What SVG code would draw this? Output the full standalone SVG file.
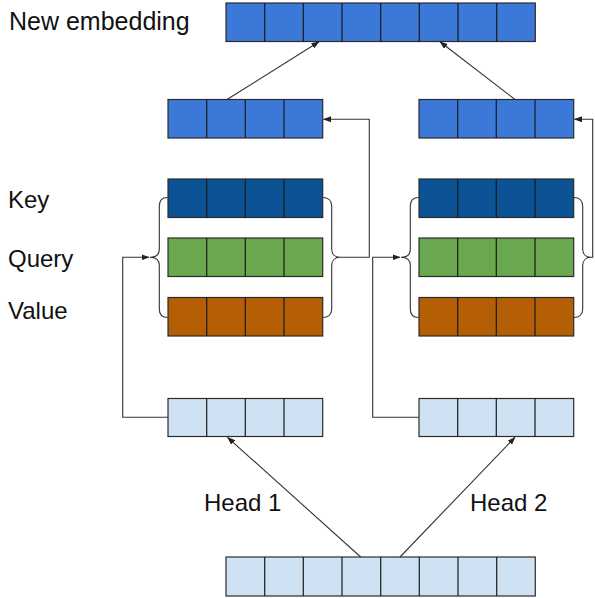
<svg xmlns="http://www.w3.org/2000/svg" width="595" height="598" viewBox="0 0 595 598">
  <style>
    .lbl { font-family: "Liberation Sans", Arial, sans-serif; font-size: 24px; fill: #111; }
    .bar { stroke: #2b2b2b; stroke-width: 1.2; }
    .div { stroke: #1a1a1a; stroke-width: 1.2; }
    .emb { fill: #3c78d8; }
    .key { fill: #0b5394; }
    .qry { fill: #6aa84f; }
    .val { fill: #b45f06; }
    .inp { fill: #cfe2f3; }
    .wire { fill: none; stroke: #333; stroke-width: 1.1; }
    .brace { fill: none; stroke: #333; stroke-width: 1.1; }
  </style>
  <defs>
    <marker id="arrow" markerUnits="userSpaceOnUse" markerWidth="8" markerHeight="6" refX="7.5" refY="3" orient="auto">
      <path d="M0,0 L8,3 L0,6 z" fill="#222"/>
    </marker>
    <!-- vertical cell divider, 4-cell bar -->
  </defs>

  <rect width="595" height="598" fill="#ffffff"/>

  <!-- labels -->
  <text class="lbl" x="9" y="29.5" style="font-size:25px">New embedding</text>
  <text class="lbl" x="8" y="207.5">Key</text>
  <text class="lbl" x="8" y="266.5">Query</text>
  <text class="lbl" x="8" y="318.5">Value</text>
  <text class="lbl" x="204" y="510.5">Head 1</text>
  <text class="lbl" x="470" y="510.5">Head 2</text>

  <!-- output embedding, 8 cells -->
  <g id="new-embedding">
    <rect class="bar emb" x="226" y="3" width="309.3" height="38.5"/>
    <path class="div" d="M264.7,3V41.5M303.3,3V41.5M342,3V41.5M380.7,3V41.5M419.3,3V41.5M458,3V41.5M496.7,3V41.5"/>
  </g>

  <!-- head 1 -->
  <g id="head1-out">
    <rect class="bar emb" x="168" y="99.5" width="154.7" height="38.5"/>
    <path class="div" d="M206.7,99.5V138M245.3,99.5V138M284,99.5V138"/>
  </g>
  <g id="head1-key">
    <rect class="bar key" x="168" y="179" width="154.7" height="38.5"/>
    <path class="div" d="M206.7,179V217.5M245.3,179V217.5M284,179V217.5"/>
  </g>
  <g id="head1-query">
    <rect class="bar qry" x="168" y="238" width="154.7" height="38.5"/>
    <path class="div" d="M206.7,238V276.5M245.3,238V276.5M284,238V276.5"/>
  </g>
  <g id="head1-value">
    <rect class="bar val" x="168" y="297.5" width="154.7" height="38.5"/>
    <path class="div" d="M206.7,297.5V336M245.3,297.5V336M284,297.5V336"/>
  </g>
  <g id="head1-in">
    <rect class="bar inp" x="168" y="398.5" width="154.7" height="38"/>
    <path class="div" d="M206.7,398.5V436.5M245.3,398.5V436.5M284,398.5V436.5"/>
  </g>

  <!-- head 2 -->
  <g id="head2-out">
    <rect class="bar emb" x="419" y="99.5" width="154.7" height="38.5"/>
    <path class="div" d="M457.7,99.5V138M496.3,99.5V138M535,99.5V138"/>
  </g>
  <g id="head2-key">
    <rect class="bar key" x="419" y="179" width="154.7" height="38.5"/>
    <path class="div" d="M457.7,179V217.5M496.3,179V217.5M535,179V217.5"/>
  </g>
  <g id="head2-query">
    <rect class="bar qry" x="419" y="238" width="154.7" height="38.5"/>
    <path class="div" d="M457.7,238V276.5M496.3,238V276.5M535,238V276.5"/>
  </g>
  <g id="head2-value">
    <rect class="bar val" x="419" y="297.5" width="154.7" height="38.5"/>
    <path class="div" d="M457.7,297.5V336M496.3,297.5V336M535,297.5V336"/>
  </g>
  <g id="head2-in">
    <rect class="bar inp" x="419" y="398.5" width="154.7" height="38"/>
    <path class="div" d="M457.7,398.5V436.5M496.3,398.5V436.5M535,398.5V436.5"/>
  </g>

  <!-- input embedding, 8 cells -->
  <g id="input-embedding">
    <rect class="bar inp" x="226" y="557" width="309.3" height="39"/>
    <path class="div" d="M264.7,557V596M303.3,557V596M342,557V596M380.7,557V596M419.3,557V596M458,557V596M496.7,557V596"/>
  </g>

  <!-- braces and connectors -->
  <g id="connectors">
    <!-- head 1 braces -->
    <path class="brace" d="M167.7,197.5 C162.5,197.5 159.3,200.5 159.3,206 V249 C159.3,254 156,257.3 150,257.3 C156,257.3 159.3,260.5 159.3,265.5 V309 C159.3,314.5 162.5,317.5 167.7,317.5"/>
    <path class="brace" d="M322.7,197.5 C328,197.5 331.7,200.5 331.7,206 V249 C331.7,254 335,257.3 340,257.3 C335,257.3 331.7,260.5 331.7,265.5 V309 C331.7,314.5 328,317.5 322.7,317.5"/>
    <!-- head 2 braces -->
    <path class="brace" d="M418.7,197.5 C413.5,197.5 410.3,200.5 410.3,206 V249 C410.3,254 407,257.3 401,257.3 C407,257.3 410.3,260.5 410.3,265.5 V309 C410.3,314.5 413.5,317.5 418.7,317.5"/>
    <path class="brace" d="M573.7,197.5 C579,197.5 582.7,200.5 582.7,206 V249 C582.7,254 586,257.3 591,257.3 C586,257.3 582.7,260.5 582.7,265.5 V309 C582.7,314.5 579,317.5 573.7,317.5"/>

    <!-- input to brace -->
    <path class="wire" d="M168,417.3 H122.7 V257.3 H149" marker-end="url(#arrow)"/>
    <path class="wire" d="M419,417.3 H372.7 V257.3 H400" marker-end="url(#arrow)"/>
    <!-- brace to head output -->
    <path class="wire" d="M340,257.3 H369.3 V119.3 H323.5" marker-end="url(#arrow)"/>
    <path class="wire" d="M591,257.3 H592.7 V119.3 H574.5" marker-end="url(#arrow)"/>

    <!-- head outputs to new embedding -->
    <line class="wire" x1="227" y1="99.5" x2="319" y2="41.8" marker-end="url(#arrow)"/>
    <line class="wire" x1="515" y1="99.5" x2="440" y2="41.8" marker-end="url(#arrow)"/>

    <!-- input embedding to heads -->
    <line class="wire" x1="360.7" y1="557" x2="227.5" y2="437.3" marker-end="url(#arrow)"/>
    <line class="wire" x1="400" y1="557" x2="515" y2="437.3" marker-end="url(#arrow)"/>
  </g>
</svg>
